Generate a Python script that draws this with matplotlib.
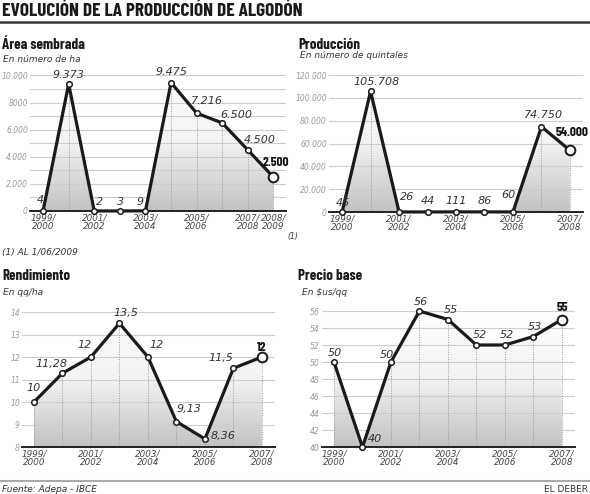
import numpy as np
import matplotlib
matplotlib.use("Agg")
import matplotlib.pyplot as plt
from matplotlib import font_manager as fm
from matplotlib.colors import LinearSegmentedColormap

# Data
area_years = ["1999/\n2000", "2001/\n2002", "2003/\n2004", "2005/\n2006", "2007/\n2008", "2008/\n2009"]
area_values = [4, 9373, 2, 3, 9, 9475, 7216, 6500, 4500, 2500]
area_yticks = [0, 2000, 4000, 6000, 8000, 10000]
area_ylabels = ["0", "2.000", "4.000", "6.000", "8000", "10.000"]

prod_years = ["1999/\n2000", "2001/\n2002", "2003/\n2004", "2005/\n2006", "2007/\n2008"]
prod_values = [45, 105708, 26, 44, 111, 86, 60, 74750, 54000]
prod_yticks = [0, 20000, 40000, 60000, 80000, 100000, 120000]

rend_years = ["1999/\n2000", "2001/\n2002", "2003/\n2004", "2005/\n2006", "2007/\n2008"]
rend_values = [10, 11.28, 12, 13.5, 12, 9.13, 8.36, 11.5, 12]
rend_yticks = [8, 9, 10, 11, 12, 13, 14]

precio_years = ["1999/\n2000", "2001/\n2002", "2003/\n2004", "2005/\n2006", "2007/\n2008"]
precio_values = [50, 40, 50, 56, 55, 52, 52, 53, 55]
precio_yticks = [40, 42, 44, 46, 48, 50, 52, 54, 56]

W, H = 590, 494
fig = plt.figure(figsize=(W / 100, H / 100), dpi=100)


# pick a condensed family that really has a bold face installed
def pick_font(candidates):
    for name in candidates:
        for f in fm.fontManager.ttflist:
            if f.name == name and f.style == "normal" and isinstance(f.weight, int) and f.weight >= 700:
                return name
    return "DejaVu Sans"


COND = [pick_font(["Barlow Condensed", "Roboto Condensed", "Archivo Narrow", "Asap Condensed",
                   "Liberation Sans Narrow"]), "DejaVu Sans"]
grad_cmap = LinearSegmentedColormap.from_list("g", ["#ffffff", "#f2f2f2", "#c2c2c2"])


def ftext(x, y, s, **kw):
    fig.text(x / W, 1 - y / H, s, **kw)


def fline(x0, x1, y, **kw):
    fig.add_artist(plt.Line2D([x0 / W, x1 / W], [1 - y / H, 1 - y / H], **kw))


def thousands(v):
    return f"{v:,}".replace(",", ".")


def decimal(v):
    return f"{v:g}".replace(".", ",")


# Function to draw one small line panel
def panel(box, xlim, values, texts, offsets, ylim, yticks, ylabels, grid, xticks, xlabels):
    x0, y0, x1, y1 = box
    ax = fig.add_axes([x0 / W, 1 - y1 / H, (x1 - x0) / W, (y1 - y0) / H])
    xs = np.arange(len(values))

    # gradient fill under the line
    grad = np.linspace(0, 1, 256).reshape(-1, 1)
    im = ax.imshow(grad, extent=[xlim[0], xlim[1], ylim[0], ylim[1]], origin="upper",
                   aspect="auto", cmap=grad_cmap, zorder=1)
    poly = ax.fill_between(xs, values, ylim[0], facecolor="none", edgecolor="none")
    im.set_clip_path(poly.get_paths()[0], transform=ax.transData)

    for g in grid:
        ax.axhline(g, color="#cdcdcd", lw=0.8, zorder=2)
    ax.vlines(xs, ylim[0], values, colors="#9a9a9a", linestyles=(0, (1, 1.5)), lw=0.7, zorder=2)

    ax.plot(xs, values, color="#1a1a1a", lw=2.3, zorder=4, clip_on=False)
    ax.plot(xs[:-1], values[:-1], "o", ms=4, mfc="white", mec="#1a1a1a", mew=1.1,
            zorder=5, clip_on=False)
    ax.plot(xs[-1:], values[-1:], "o", ms=7, mfc="white", mec="#1a1a1a", mew=1.4,
            zorder=5, clip_on=False)

    for i, (t, (dx, dy)) in enumerate(zip(texts, offsets)):
        if i == len(texts) - 1:
            ax.annotate(t, (xs[i], values[i]), xytext=(dx, dy), textcoords="offset pixels",
                        ha="center", va="center", fontsize=9.5, fontweight="bold",
                        family=COND, color="#111", zorder=6)
        else:
            ax.annotate(t, (xs[i], values[i]), xytext=(dx, dy), textcoords="offset pixels",
                        ha="center", va="center", fontsize=8, style="italic",
                        color="#333", zorder=6)

    ax.set_xlim(*xlim)
    ax.set_ylim(*ylim)
    ax.set_yticks(yticks, ylabels)
    ax.set_xticks(xticks, xlabels)
    for sp in ["top", "right", "left"]:
        ax.spines[sp].set_visible(False)
    ax.spines["bottom"].set_color("#222")
    ax.spines["bottom"].set_linewidth(1.4)
    ax.spines["bottom"].set_zorder(3)
    ax.tick_params(axis="y", length=0, pad=1.5, labelsize=5.5, labelcolor="#9a9a9a")
    ax.tick_params(axis="x", length=0, pad=2, labelsize=6.3, labelcolor="#444")
    for lab in ax.get_yticklabels() + ax.get_xticklabels():
        lab.set_style("italic")
    for lab in ax.get_xticklabels():
        lab.set_linespacing(0.95)
    ax.set_facecolor("none")
    return ax


# Title
ftext(2, 11, "EVOLUCIÓN DE LA PRODUCCIÓN DE ALGODÓN", va="center", fontsize=13.9,
      fontweight="bold", family=COND, color="#1a1a1a")
fline(0, 590, 22.5, color="#333", lw=1.8)

# Area sembrada
ftext(2, 45, "Área sembrada", va="center", fontsize=10.8, fontweight="bold", family=COND, color="#1a1a1a")
ftext(3, 60, "En número de ha", va="center", fontsize=6.5, style="italic", color="#333")
panel((30, 75.5, 286, 211), (-0.51, 9.49), area_values, [thousands(v) for v in area_values],
      [(-3, 11), (0, 9), (5, 9), (1, 9), (-5, 9), (0, 11), (10, 12), (14, 8), (12, 10), (2, 15)],
      (0, 10000), area_yticks, area_ylabels, range(0, 10001, 1000),
      [0, 2, 4, 6, 8, 9], area_years)
ftext(287, 237, "(1)", va="center", fontsize=5.5, style="italic", color="#333")
ftext(2, 252, "(1) AL 1/06/2009", va="center", fontsize=6.5, style="italic", color="#333")

# Produccion
ftext(298, 45, "Producción", va="center", fontsize=10.8, fontweight="bold", family=COND, color="#1a1a1a")
ftext(300, 56, "En número de quintales", va="center", fontsize=6.5, style="italic", color="#333")
panel((329, 75, 583, 212), (-0.46, 8.46), prod_values, [thousands(v) for v in prod_values],
      [(1, 9), (6, 9), (8, 15), (0, 11), (0, 11), (0, 11), (-5, 17), (2, 12), (2, 18)],
      (0, 120000), prod_yticks, [thousands(v) for v in prod_yticks], prod_yticks,
      [0, 2, 4, 6, 8], prod_years)

# Rendimiento
ftext(2, 276, "Rendimiento", va="center", fontsize=10.8, fontweight="bold", family=COND, color="#1a1a1a")
ftext(3, 292, "En qq/ha", va="center", fontsize=6.5, style="italic", color="#333")
panel((22, 312, 275, 447), (-0.42, 8.46), rend_values, [decimal(v) for v in rend_values],
      [(0, 14), (-11, 9), (-6, 12), (6, 10), (9, 12), (13, 13), (18, 3), (-13, 10), (0, 10)],
      (8, 14), rend_yticks, [str(v) for v in rend_yticks], rend_yticks,
      [0, 2, 4, 6, 8], rend_years)

# Precio base
ftext(298, 276, "Precio base", va="center", fontsize=10.8, fontweight="bold", family=COND, color="#1a1a1a")
ftext(302, 292, "En $us/qq", va="center", fontsize=6.5, style="italic", color="#333")
panel((322, 311, 575, 447), (-0.42, 8.46), precio_values, [str(v) for v in precio_values],
      [(1, 9), (12, 8), (-4, 7), (1, 9), (3, 10), (3, 10), (2, 10), (2, 10), (0, 12)],
      (40, 56), precio_yticks, [str(v) for v in precio_yticks], precio_yticks,
      [0, 2, 4, 6, 8], precio_years)

# Footer
fline(0, 590, 481, color="#aaaaaa", lw=1.5)
ftext(2, 489, "Fuente: Adepa - IBCE", va="center", fontsize=6.5, style="italic", color="#333")
ftext(588, 489, "EL DEBER", va="center", ha="right", fontsize=6.5, color="#333")

fig.savefig("out.png", dpi=100)
